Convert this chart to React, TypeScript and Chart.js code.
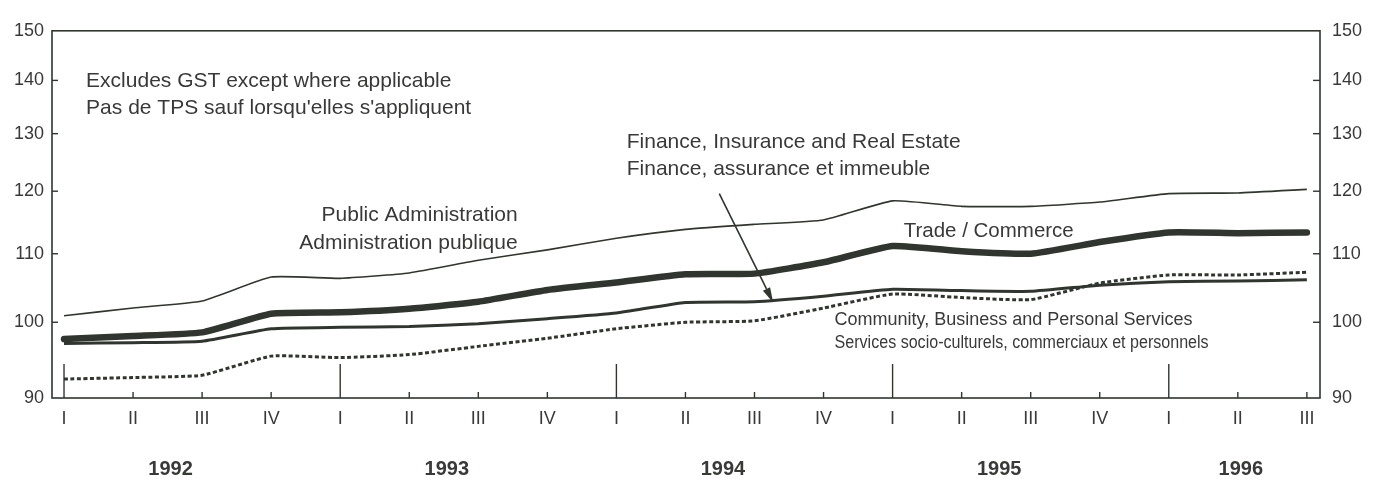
import React, { useEffect, useRef } from "react";
import { Chart, registerables } from "chart.js";

Chart.register(...registerables);

// ---- data ----
const quarters = ["I", "II", "III", "IV", "I", "II", "III", "IV", "I", "II", "III", "IV", "I", "II", "III", "IV", "I", "II", "III"];
const quarterYears = [1992, 1992, 1992, 1992, 1993, 1993, 1993, 1993, 1994, 1994, 1994, 1994, 1995, 1995, 1995, 1995, 1996, 1996, 1996];
const years = [1992, 1993, 1994, 1995, 1996];
const yTicks = [90, 100, 110, 120, 130, 140, 150];

const publicAdmin = [100.9, 102.0, 103.0, 106.5, 106.3, 107.1, 109.0, 110.6, 112.4, 113.8, 114.6, 115.3, 118.4, 117.5, 117.5, 118.2, 119.6, 119.7, 120.3];
const trade = [97.7, 98.1, 98.6, 101.2, 101.4, 101.9, 102.9, 104.6, 105.7, 106.9, 107.0, 108.7, 111.2, 110.4, 110.0, 111.8, 113.3, 113.2, 113.3];
const finance = [97.1, 97.2, 97.4, 99.1, 99.3, 99.4, 99.8, 100.5, 101.3, 102.8, 102.9, 103.7, 104.7, 104.5, 104.4, 105.3, 105.8, 105.9, 106.1];
const community = [92.4, 92.6, 92.9, 95.4, 95.2, 95.6, 96.7, 97.8, 99.1, 100.0, 100.2, 102.0, 104.0, 103.5, 103.2, 105.6, 106.8, 106.8, 107.2];

// annotation texts, anchored in data coordinates (quarter index, index value)
const notes = [
  { text: "Excludes GST except where applicable", x: 0.32, y: 139.8, align: "left", size: 21, maxW: 0 },
  { text: "Pas de TPS sauf lorsqu'elles s'appliquent", x: 0.32, y: 134.6, align: "left", size: 21, maxW: 0 },
  { text: "Public Administration", x: 6.57, y: 116.0, align: "right", size: 21, maxW: 0 },
  { text: "Administration publique", x: 6.57, y: 111.6, align: "right", size: 21, maxW: 0 },
  { text: "Finance, Insurance and Real Estate", x: 8.15, y: 128.5, align: "left", size: 21, maxW: 0 },
  { text: "Finance, assurance et immeuble", x: 8.15, y: 123.7, align: "left", size: 21, maxW: 0 },
  { text: "Trade / Commerce", x: 12.16, y: 113.5, align: "left", size: 20.5, maxW: 0 },
  { text: "Community, Business and Personal Services", x: 11.16, y: 100.3, align: "left", size: 18, maxW: 0 },
  { text: "Services socio-culturels, commerciaux et personnels", x: 11.16, y: 97.1, align: "left", size: 18, maxW: 374 },
];
const arrowFrom = { x: 9.49, y: 119.6 };
const arrowTo = { x: 10.27, y: 102.8 };

const INK = "#303530";
const TEXT = "#383a38";
const FONT = "'Liberation Sans', Arial, Helvetica, sans-serif";

const toXY = (arr: number[]) => arr.map((v, i) => ({ x: i, y: v }));

const overlay = {
  id: "overlay",
  afterDatasetsDraw(chart: any) {
    const { ctx, chartArea, scales } = chart;
    const { left, right, top, bottom } = chartArea;
    const x = scales.x;
    const y = scales.y;
    ctx.save();
    ctx.strokeStyle = INK;
    ctx.lineWidth = 1.6;
    ctx.strokeRect(left, top, right - left, bottom - top);
    const line = (x1: number, y1: number, x2: number, y2: number) => {
      ctx.beginPath();
      ctx.moveTo(x1, y1);
      ctx.lineTo(x2, y2);
      ctx.stroke();
    };
    ctx.lineWidth = 1.4;
    yTicks.forEach((v) => {
      if (v === yTicks[0] || v === yTicks[yTicks.length - 1]) return;
      const py = y.getPixelForValue(v);
      line(left, py, left + 6, py);
      line(right - 7, py, right, py);
    });
    quarters.forEach((q, i) => {
      const px = x.getPixelForValue(i);
      const len = q === "I" ? 34 : 6;
      line(px, bottom, px, bottom - len);
    });
    // year labels
    ctx.fillStyle = TEXT;
    ctx.font = `bold 20px ${FONT}`;
    ctx.textAlign = "center";
    ctx.textBaseline = "middle";
    years.forEach((yr) => {
      const idx = quarterYears.map((q, i) => (q === yr ? i : -1)).filter((i) => i >= 0);
      const mid = (idx[0] + idx[idx.length - 1]) / 2;
      ctx.fillText(String(yr), x.getPixelForValue(mid) + 3, bottom + 71);
    });
    // annotations
    notes.forEach((n) => {
      ctx.font = `${n.size}px ${FONT}`;
      ctx.textAlign = n.align as CanvasTextAlign;
      ctx.textBaseline = "middle";
      const px = x.getPixelForValue(n.x);
      const py = y.getPixelForValue(n.y);
      if (n.maxW) ctx.fillText(n.text, px, py, n.maxW);
      else ctx.fillText(n.text, px, py);
    });
    // arrow
    const ax1 = x.getPixelForValue(arrowFrom.x);
    const ay1 = y.getPixelForValue(arrowFrom.y);
    const ax2 = x.getPixelForValue(arrowTo.x);
    const ay2 = y.getPixelForValue(arrowTo.y);
    ctx.lineWidth = 1.6;
    const ang = Math.atan2(ay2 - ay1, ax2 - ax1);
    const headLen = 15;
    const headW = 4;
    const bx = ax2 - headLen * Math.cos(ang);
    const by = ay2 - headLen * Math.sin(ang);
    line(ax1, ay1, bx, by);
    ctx.fillStyle = INK;
    ctx.beginPath();
    ctx.moveTo(ax2, ay2);
    ctx.lineTo(bx + headW * Math.sin(ang), by - headW * Math.cos(ang));
    ctx.lineTo(bx - headW * Math.sin(ang), by + headW * Math.cos(ang));
    ctx.closePath();
    ctx.fill();
    ctx.restore();
  },
};

export default function App() {
  const ref = useRef<HTMLCanvasElement | null>(null);
  useEffect(() => {
    if (!ref.current) return;
    Chart.defaults.font.family = FONT;
    const yAxisCommon = {
      type: "logarithmic" as const,
      min: 90,
      max: 150,
      grid: { display: false, drawTicks: false },
      border: { display: false },
      afterBuildTicks: (s: any) => {
        s.ticks = yTicks.map((v) => ({ value: v }));
      },
      ticks: {
        callback: (v: any) => String(v),
        color: TEXT,
        font: { size: 18 },
        autoSkip: false,
      },
    };
    const chart = new Chart(ref.current, {
      type: "line",
      data: {
        datasets: [
          {
            label: "Community, Business and Personal Services",
            data: toXY(community),
            borderColor: INK,
            borderWidth: 3,
            borderDash: [4, 2.5],
            pointRadius: 0,
            tension: 0.15,
            fill: false,
          },
          {
            label: "Finance, Insurance and Real Estate",
            data: toXY(finance),
            borderColor: INK,
            borderWidth: 3,
            pointRadius: 0,
            tension: 0.15,
            fill: false,
          },
          {
            label: "Public Administration",
            data: toXY(publicAdmin),
            borderColor: INK,
            borderWidth: 1.6,
            pointRadius: 0,
            tension: 0.15,
            fill: false,
          },
          {
            label: "Trade / Commerce",
            data: toXY(trade),
            borderColor: INK,
            borderWidth: 6.5,
            borderCapStyle: "round",
            borderJoinStyle: "round",
            pointRadius: 0,
            tension: 0.15,
            fill: false,
          },
        ],
      },
      options: {
        responsive: false,
        animation: false,
        layout: { padding: { top: 13, left: 0, right: 0, bottom: 0 } },
        plugins: { legend: { display: false }, tooltip: { enabled: false } },
        scales: {
          x: {
            type: "linear",
            min: -0.174,
            max: 18.19,
            grid: { display: false, drawTicks: false },
            border: { display: false },
            afterBuildTicks: (s: any) => {
              s.ticks = quarters.map((_, i) => ({ value: i }));
            },
            afterFit: (s: any) => {
              s.height = 81;
            },
            ticks: {
              callback: (_v: any, i: number) => quarters[i],
              color: TEXT,
              font: { size: 18 },
              padding: 10,
              autoSkip: false,
              maxRotation: 0,
            },
          },
          y: {
            ...yAxisCommon,
            position: "left",
            afterFit: (s: any) => {
              s.width = 44;
            },
            ticks: { ...yAxisCommon.ticks, padding: 8 },
          },
          y2: {
            ...yAxisCommon,
            position: "right",
            afterFit: (s: any) => {
              s.width = 47;
            },
            ticks: { ...yAxisCommon.ticks, padding: 12 },
          },
        },
      } as any,
      plugins: [overlay],
    });
    return () => chart.destroy();
  }, []);
  return (
    <div style={{ width: 1359, height: 471, background: "#ffffff" }}>
      <canvas ref={ref} width={1359} height={471} style={{ display: "block" }} />
    </div>
  );
}
